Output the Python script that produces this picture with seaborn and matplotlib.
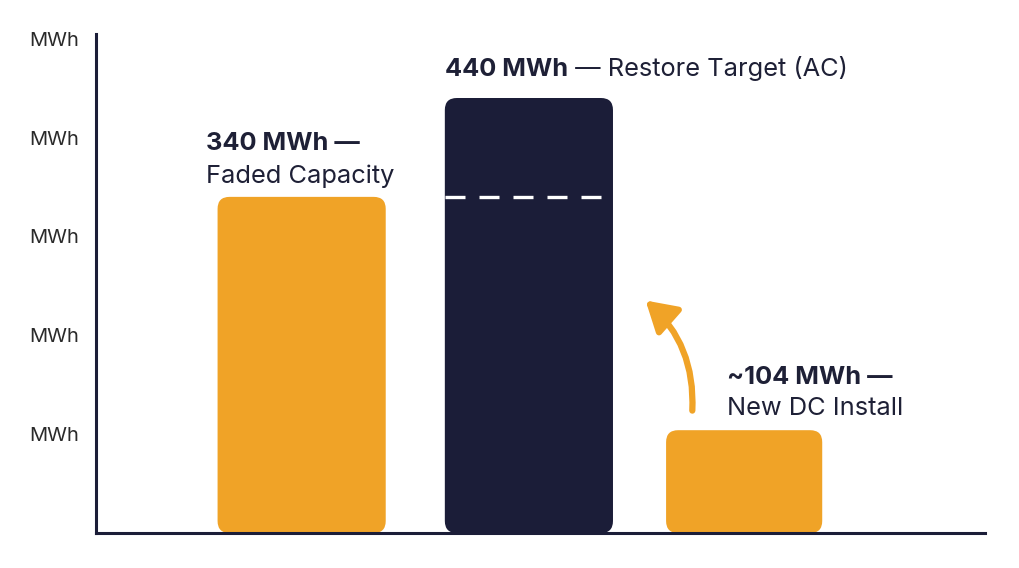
import matplotlib
matplotlib.use("Agg")
import matplotlib.pyplot as plt
from matplotlib.patches import FancyBboxPatch
import seaborn as sns
import pandas as pd

# --- data ---
categories = ["Faded Capacity", "Restore Target (AC)", "New DC Install"]
values = [340, 440, 104]
value_labels = ["340 MWh", "440 MWh", "~104 MWh"]
y_ticks = [100, 200, 300, 400, 500]
y_tick_labels = ["MWh"] * len(y_ticks)

ORANGE = "#F0A327"
NAVY = "#1B1D38"
TEXT = "#1E2036"
FS = 18.3

sns.set_theme(style="white")
plt.rcParams["font.family"] = ["Inter", "DejaVu Sans"]

df = pd.DataFrame({"category": categories, "value": values})

fig = plt.figure(figsize=(10.2, 5.68), dpi=100)
ax = fig.add_axes([0.094, 0.0616, 0.872, 0.879])

sns.barplot(data=df, x="category", y="value", hue="category",
            palette=[ORANGE, NAVY, ORANGE], saturation=1, width=0.76,
            legend=False, ax=ax)

ax.set_xlim(-0.93, 3.09)
ax.set_ylim(0, 505)

# swap the square bars for rounded ones
px_x = 1 / 221.0   # data units per pixel, x
px_y = 1 / 0.99    # data units per pixel, y
for p in list(ax.patches):
    x, y = p.get_x(), p.get_y()
    w, h = p.get_width(), p.get_height()
    if 0.5 < x < 1.5:     # middle bar sits a touch to the right
        x += 6 * px_x
    elif x > 1.5:         # last bar is a bit narrower
        x += 6 * px_x
        w -= 12 * px_x
    rb = FancyBboxPatch((x, y), w, h,
                        boxstyle=f"round,pad=0,rounding_size={12 * px_x}",
                        mutation_aspect=px_y / px_x,
                        fc=p.get_facecolor(), ec="none", zorder=2)
    p.remove()
    ax.add_patch(rb)

# dashed line marking the faded level inside the target bar
mid = 1 + 6 * px_x
ax.hlines(values[0], mid - 0.38, mid + 0.38, colors="white",
          linestyles=(0, (6, 4.2)), linewidth=2.4, zorder=3)

# labels
def two_part(xy, offset, bold, normal, size=FS):
    t1 = ax.annotate(bold, xy=xy, xytext=offset, textcoords="offset pixels",
                     fontsize=size, fontweight="bold", color=TEXT,
                     ha="left", va="bottom", zorder=5)
    t2 = ax.annotate(normal, xy=(1, 0), xycoords=t1, fontsize=size,
                     color=TEXT, ha="left", va="bottom", zorder=5)
    return t1, t2

# bar 1
ax.annotate(value_labels[0] + " \u2014", xy=(0 - 0.38, values[0]), xytext=(-12, 42),
            textcoords="offset pixels", fontsize=FS, fontweight="bold",
            color=TEXT, ha="left", va="bottom")
ax.annotate(categories[0], xy=(0 - 0.38, values[0]), xytext=(-12, 9),
            textcoords="offset pixels", fontsize=FS, color=TEXT,
            ha="left", va="bottom")

# bar 2
two_part((mid - 0.38, values[1]), (0, 17), value_labels[1],
         " \u2014 " + categories[1])

# bar 3
ax.annotate(value_labels[2] + " \u2014", xy=(2 - 0.38, values[2]), xytext=(67, 41),
            textcoords="offset pixels", fontsize=FS, fontweight="bold",
            color=TEXT, ha="left", va="bottom")
ax.annotate(categories[2], xy=(2 - 0.38, values[2]), xytext=(67, 10),
            textcoords="offset pixels", fontsize=FS, color=TEXT,
            ha="left", va="bottom")

# curved arrow from the new install toward the target
ax.annotate("", xy=(1.545, 237), xytext=(1.765, 121),
            arrowprops=dict(arrowstyle="-|>,head_length=1.5,head_width=0.9",
                            color=ORANGE, lw=4.5,
                            connectionstyle="arc3,rad=0.25"),
            zorder=4)

# axes styling
ax.set_xlabel("")
ax.set_ylabel("")
ax.set_xticks([])
ax.set_yticks(y_ticks)
ax.set_yticklabels(y_tick_labels, fontsize=14.5, color="#2A2A2A")
ax.tick_params(axis="y", length=0, pad=12)
sns.despine(ax=ax, top=True, right=True)
for s in ["left", "bottom"]:
    ax.spines[s].set_color(NAVY)
    ax.spines[s].set_linewidth(2.2)

fig.savefig("out.png", dpi=100, facecolor="white")
